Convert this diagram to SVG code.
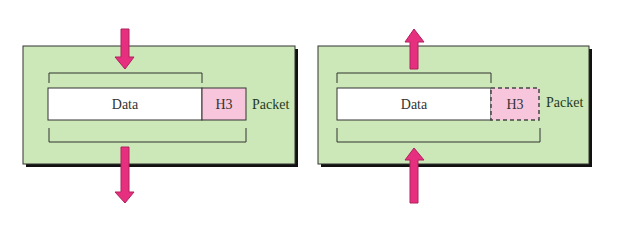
<svg xmlns="http://www.w3.org/2000/svg" width="621" height="235" viewBox="0 0 621 235">
<defs>
<style>
.shadow{fill:#111}
.panel{fill:#cde8b8;stroke:#333;stroke-width:1}
.data{fill:#fff;stroke:#333;stroke-width:1}
.h3{fill:#f8c6dc;stroke:#333;stroke-width:1}
.h3d{fill:#f8c6dc;stroke:#444;stroke-width:1.5;stroke-dasharray:4 3}
.br{fill:none;stroke:#333;stroke-width:1}
.arrow{fill:#e6307f;stroke:#b0205f;stroke-width:1}
.t{font-family:"Liberation Serif",serif;font-size:14px;fill:#333}
.pk{font-family:"Liberation Serif",serif;font-size:14px;fill:#1f3a1f}
</style>
</defs>
<rect width="621" height="235" fill="#fff"/>
<g id="left-panel">
<rect class="shadow" x="26" y="49" width="272" height="118"/>
<rect class="panel" x="23" y="46" width="272" height="118"/>
</g>
<g id="right-panel">
<rect class="shadow" x="321" y="49" width="271" height="118"/>
<rect class="panel" x="318" y="46" width="271" height="118"/>
</g>
<g id="left-data">
<rect class="data" x="48" y="88" width="154" height="32"/>
<text class="t" x="125" y="109" text-anchor="middle">Data</text>
</g>
<g id="left-h3">
<rect class="h3" x="202" y="88" width="44" height="32"/>
<text class="t" x="224" y="109" text-anchor="middle">H3</text>
</g>
<g id="left-packet"><text class="pk" x="252" y="109">Packet</text></g>
<g id="right-data">
<rect class="data" x="337" y="88" width="154" height="32"/>
<text class="t" x="414" y="109" text-anchor="middle">Data</text>
</g>
<g id="right-h3">
<rect class="h3d" x="491" y="88" width="48" height="32"/>
<text class="t" x="515" y="109" text-anchor="middle">H3</text>
</g>
<g id="right-packet"><text class="pk" x="546" y="107">Packet</text></g>
<g id="connectors">
<path class="br" d="M49,83 V73 H202 V83"/>
<path class="br" d="M49,128 V142 H246 V128"/>
<path class="br" d="M337,83 V73 H491 V83"/>
<path class="br" d="M337,128 V142 H540 V128"/>
<polygon class="arrow" points="121,29 129,29 129,57 134,57 125,69 115,57 121,57"/>
<polygon class="arrow" points="121,147 129,147 129,192 134,192 125,203 115,192 121,192"/>
<polygon class="arrow" points="410,69 418,69 418,42 424,42 414,29 405,42 410,42"/>
<polygon class="arrow" points="410,203 418,203 418,160 424,160 414,148 405,160 410,160"/>
</g>
</svg>
